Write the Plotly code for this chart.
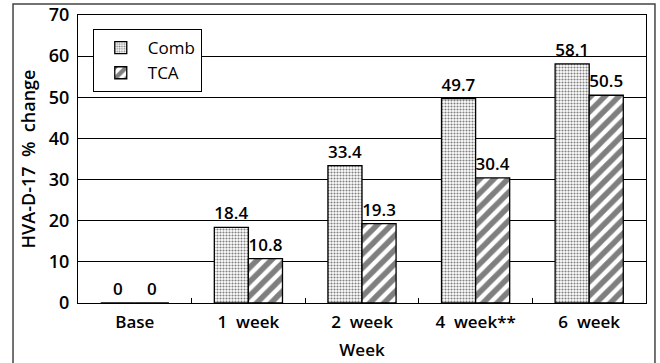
import plotly.graph_objects as go

categories = ["Base", "1  week", "2  week", "4  week**", "6  week"]
comb = [0, 18.4, 33.4, 49.7, 58.1]
tca = [0, 10.8, 19.3, 30.4, 50.5]
y_ticks = [0, 10, 20, 30, 40, 50, 60, 70]

FONT = "Open Sans"

fig = go.Figure()
fig.add_trace(go.Bar(
    x=categories, y=comb, name="Comb",
    text=[f"{v:g}" for v in comb], textposition="outside", cliponaxis=False,
    textfont=dict(size=17, color="black", family=FONT, weight=600),
    marker=dict(color="white", line=dict(color="black", width=1.3),
                pattern=dict(shape=".", fgcolor="black", bgcolor="white", size=3, solidity=0.4)),
))
fig.add_trace(go.Bar(
    x=categories, y=tca, name="TCA",
    text=[f"{v:g}" for v in tca], textposition="outside", cliponaxis=False,
    textfont=dict(size=17, color="black", family=FONT, weight=600),
    marker=dict(color="white", line=dict(color="black", width=1.3),
                pattern=dict(shape="/", fgcolor="black", bgcolor="white", size=10, solidity=0.55)),
))

fig.update_layout(
    width=660, height=363,
    margin=dict(l=78, r=14, t=15, b=60),
    paper_bgcolor="white", plot_bgcolor="white",
    barmode="group", bargap=0.4, bargroupgap=0,
    font=dict(family=FONT, color="black", size=16, weight=600),
    showlegend=True,
    legend=dict(x=0.026, y=0.951, xanchor="left", yanchor="top",
                bgcolor="white", bordercolor="black", borderwidth=1,
                font=dict(size=17, family=FONT, weight=500), tracegroupgap=0,
                itemwidth=44),
    xaxis=dict(title=dict(text="Week", font=dict(size=17), standoff=12),
               automargin=False,
               showline=True, linecolor="black", linewidth=1.3, mirror=True,
               ticks="inside", tickson="boundaries", ticklen=5, tickcolor="black",
               tickfont=dict(size=17), ticklabelstandoff=3),
    yaxis=dict(title=dict(text="HVA-D-17  %  change", font=dict(size=18), standoff=8),
               automargin=False,
               range=[0, 70], tickvals=y_ticks, showgrid=True, gridcolor="black", gridwidth=1,
               showline=True, linecolor="black", linewidth=1.3, mirror=True,
               ticks="", tickfont=dict(size=18), zeroline=False, ticklabelstandoff=4),
    shapes=[dict(type="rect", xref="paper", yref="paper",
                 x0=-0.1144, x1=1.0158, y0=-0.5, y1=1.038,
                 line=dict(color="#444", width=1.5), layer="below")],
)

fig.write_html("out.html", config={"displayModeBar": False},
               post_script="document.body.style.margin='0';document.body.style.overflow='hidden';")
